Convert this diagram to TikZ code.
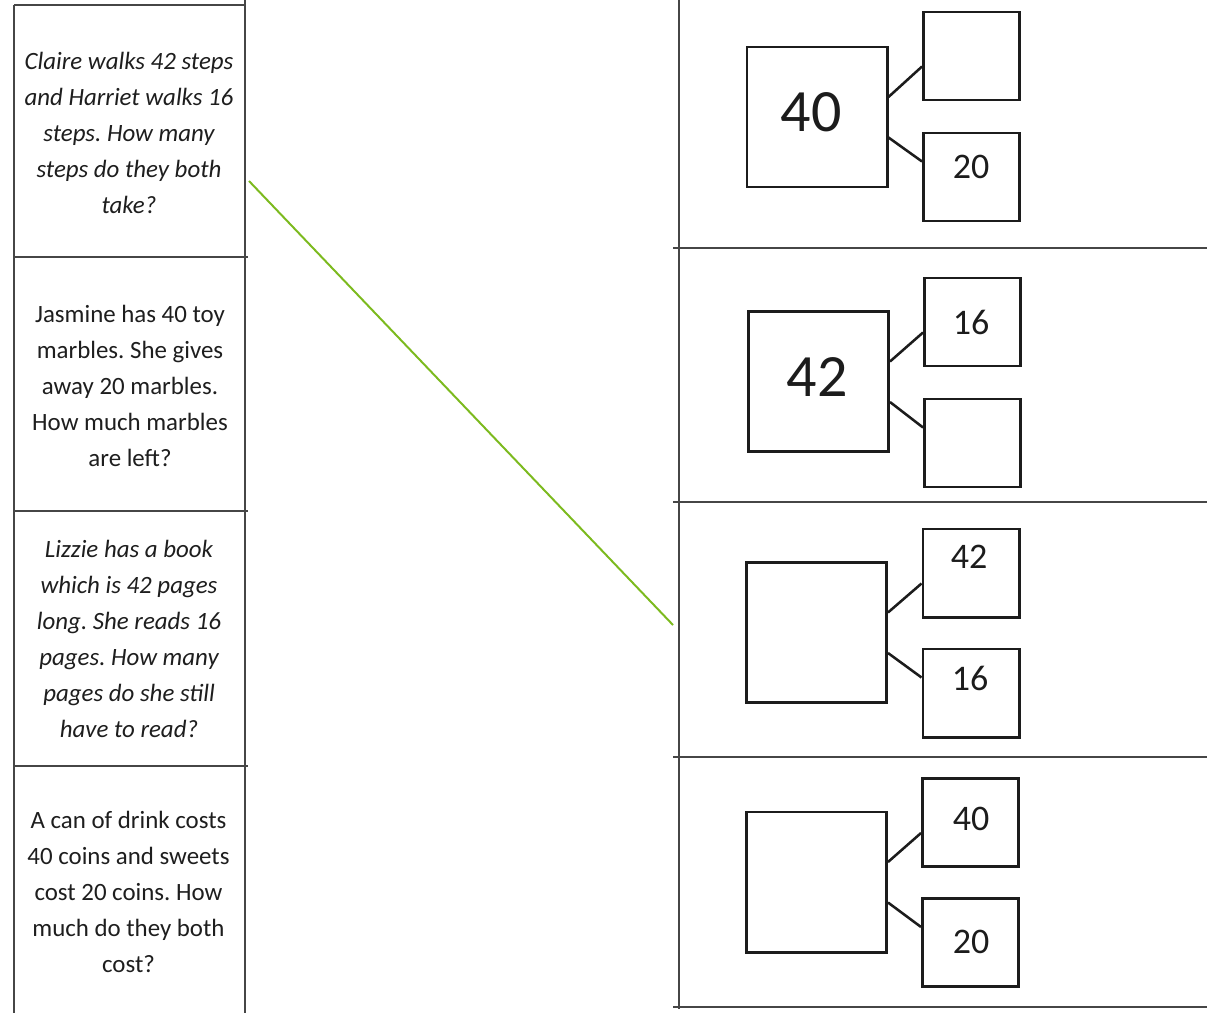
\documentclass[tikz,border=0pt]{standalone}
\usepackage{fontspec}
\setmainfont{Carlito}
\frenchspacing
\definecolor{rulegray}{RGB}{70,70,70}
\definecolor{boxblack}{RGB}{28,28,28}
\definecolor{textgray}{RGB}{30,30,30}
\definecolor{linkgreen}{RGB}{124,186,30}
\begin{document}
\begin{tikzpicture}[x=0.025cm,y=-0.025cm,
  rule/.style={draw=rulegray,line width=1.4pt},
  bigbox/.style={draw=boxblack,line width=2.1pt,minimum width=3.5cm,minimum height=3.5cm,inner sep=0pt},
  smallbox/.style={draw=boxblack,line width=2.1pt,minimum width=2.4cm,minimum height=2.2cm,inner sep=0pt},
  link/.style={draw=boxblack,line width=1.8pt},
  qtext/.style={align=center,text=textgray,inner sep=0pt,font=\fontsize{17.7}{25.6}\selectfont},
  bignum/.style={text=boxblack,inner sep=0pt,font=\fontsize{42.7}{50}\selectfont},
  smallnum/.style={text=boxblack,inner sep=0pt,font=\fontsize{25.6}{30}\selectfont},
  match/.style={draw=linkgreen,line width=1.4pt}]
\fill[white] (0,0) rectangle (1207,1013);
\useasboundingbox (0,0) rectangle (1207,1013);
% left table
\draw[rule] (14,5) -- (14,1013);
\draw[rule] (245,0) -- (245,1013);
\draw[rule] (14,5) -- (245,5);
\draw[rule] (14,257) -- (248,257);
\draw[rule] (14,511) -- (248,511);
\draw[rule] (14,766) -- (248,766);
% right table
\draw[rule] (679,0) -- (679,1009);
\draw[rule] (673,248) -- (1207,248);
\draw[rule] (673,502) -- (1207,502);
\draw[rule] (673,757) -- (1207,757);
\draw[rule] (673,1007) -- (1207,1007);
% questions
\node[qtext] (q1) at (129,133) {\itshape Claire walks 42 steps\\\itshape and Harriet walks 16\\\itshape steps. How many\\\itshape steps do they both\\\itshape take?};
\node[qtext] (q2) at (130,386) {Jasmine has 40 toy\\marbles. She gives\\away 20 marbles.\\How much marbles\\are left?};
\node[qtext] (q3) at (129,639) {\itshape Lizzie has a book\\\itshape which is 42 pages\\\itshape long. She reads 16\\\itshape pages. How many\\\itshape pages do she still\\\itshape have to read?};
\node[qtext] (q4) at (128.5,892) {A can of drink costs\\40 coins and sweets\\cost 20 coins. How\\much do they both\\cost?};
% section 1
\node[bigbox] (b1) at (817,117) {};
\node[smallbox] (t1) at (971.5,56) {};
\node[smallbox] (u1) at (971.5,177) {};
\node[bignum] (n1) at (811,112) {40};
\node[smallnum] (m1) at (971,167) {20};
% section 2
\node[bigbox] (b2) at (818.5,381.5) {};
\node[smallbox] (t2) at (972.5,322) {};
\node[smallbox] (u2) at (972.5,443) {};
\node[bignum] (n2) at (817,377) {42};
\node[smallnum] (m2) at (971,322) {16};
% section 3
\node[bigbox] (b3) at (816.5,632.5) {};
\node[smallbox] (t3) at (971,573) {};
\node[smallbox] (u3) at (971,693) {};
\node[smallnum] (m3) at (969,557) {42};
\node[smallnum] (p3) at (970,678) {16};
% section 4
\node[bigbox] (b4) at (816.5,882) {};
\node[smallbox] (t4) at (970.5,822.5) {};
\node[smallbox] (u4) at (970.5,942.5) {};
\node[smallnum] (m4) at (971,819) {40};
\node[smallnum] (p4) at (971,942) {20};
% connectors
\foreach \i in {1,2,3,4}{
  \draw[link] ([yshift=0.5cm]b\i.east) -- ([yshift=-0.2625cm]t\i.west);
  \draw[link] ([yshift=-0.5125cm]b\i.east) -- ([yshift=0.3875cm]u\i.west);
}
% matching line
\coordinate (gA) at (249,181);
\coordinate (gB) at (673,625);
\draw[match] (gA) -- (gB);
\end{tikzpicture}
\end{document}
